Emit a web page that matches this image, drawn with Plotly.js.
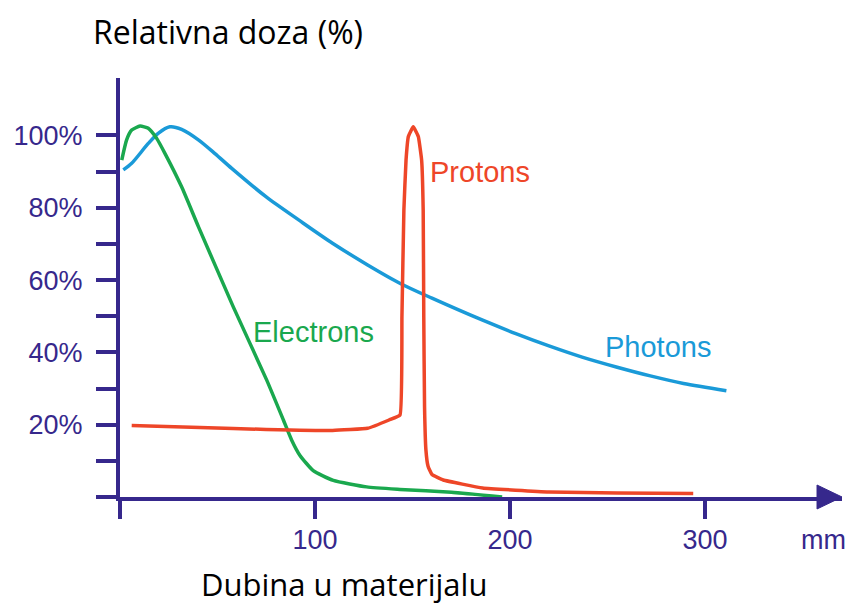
<!DOCTYPE html>
<html>
<head>
<meta charset="utf-8">
<script src="https://cdn.plot.ly/plotly-3.0.1.min.js"></script>
<style>html,body{margin:0;padding:0;background:#fff;}#chart{width:851px;height:605px;}</style>
</head>
<body>
<div id="chart"></div>
<script>
// Depth (mm) and relative dose (%)
const photonX = [1.7, 6, 14.5, 19.6, 25.6, 31.6, 40.2, 48.7, 57.3, 75, 92, 109, 127, 144, 160, 186, 203, 220, 237, 255, 272, 289, 311];
const photonY = [90.5, 92.3, 97.8, 100.6, 102.4, 101.7, 98.8, 95, 90.9, 83, 76.5, 70.2, 64.2, 59, 55, 48.9, 45.2, 41.8, 38.7, 35.9, 33.5, 31.4, 29.4];

const electronX = [0.9, 3.4, 6, 10.3, 14.5, 18.8, 23.1, 31.6, 40.2, 58.1, 75.2, 83.8, 88, 92.3, 99.1, 109.4, 126.5, 143.6, 170, 196];
const electronY = [93.2, 98.8, 101.5, 102.6, 102, 99.2, 95, 85.8, 74.8, 52.6, 32.4, 21.3, 15.8, 11.5, 7.3, 4.6, 2.8, 2.1, 1.3, 0];

const protonX = [6, 41, 75, 109, 127, 138, 143.6, 144.6, 145.6, 146.7, 147.9, 150.4, 153, 154.7, 155.5, 155.8, 156.2, 156.9, 158, 160, 165.8, 186, 220, 255, 294];
const protonY = [19.8, 19.2, 18.7, 18.4, 19, 21.3, 22.7, 50, 79.4, 93.2, 99.7, 102.4, 99.7, 93.2, 79.4, 50, 25, 13, 8.5, 6.2, 4.7, 2.5, 1.4, 1.1, 1];

const yTickVals = [0, 10, 20, 30, 40, 50, 60, 70, 80, 90, 100];
const yTickText = ['', '', '20%', '', '40%', '', '60%', '', '80%', '', '100%'];
const xTickVals = [0, 100, 200, 300];
const xTickText = ['', '100', '200', '300'];

const seriesNames = ['Photons', 'Electrons', 'Protons'];
const labelX = [247.7, 67.2, 158];
const labelY = [41.5, 45.6, 89.9];
const colors = ['#1a9ad8', '#1aa84e', '#ee4628'];

const axisColor = '#36288c';
const tickFont = {family: 'Liberation Sans, Arial, sans-serif', size: 27, color: axisColor};

const traces = [
  {x: photonX, y: photonY, mode: 'lines', line: {color: colors[0], width: 3.5, shape: 'spline', smoothing: 0.8}, name: seriesNames[0]},
  {x: electronX, y: electronY, mode: 'lines', line: {color: colors[1], width: 3.5, shape: 'spline', smoothing: 0.5}, name: seriesNames[1]},
  {x: protonX, y: protonY, mode: 'lines', line: {color: colors[2], width: 3.5, shape: 'spline', smoothing: 0.3}, name: seriesNames[2]}
];

const annotations = seriesNames.map((n, i) => ({
  x: labelX[i], y: labelY[i], xref: 'x', yref: 'y', text: n, showarrow: false,
  xanchor: 'left', yanchor: 'middle',
  font: {family: 'Liberation Sans, Arial, sans-serif', size: 29, color: colors[i]}
}));
annotations.push({
  x: 0.9737, y: -0.1026, xref: 'paper', yref: 'paper', text: 'mm', showarrow: false,
  xanchor: 'center', yanchor: 'middle', font: tickFont
});
annotations.push({
  x: 0.3102, y: -0.207, xref: 'paper', yref: 'paper', text: 'Dubina u materijalu', showarrow: false,
  xanchor: 'center', yanchor: 'middle', font: {family: 'Open Sans, sans-serif', size: 31, color: '#000'}
});

const layout = {
  width: 851, height: 605,
  margin: {l: 120, r: 9, t: 78, b: 108},
  paper_bgcolor: '#fff', plot_bgcolor: '#fff',
  showlegend: false,
  title: {text: 'Relativna doza (%)', xref: 'container', yref: 'container', x: 0.1093, xanchor: 'left', y: 0.9455, yanchor: 'middle',
          font: {family: 'Open Sans, sans-serif', size: 32, color: '#000'}},
  xaxis: {
    range: [0, 370.3], showgrid: false, zeroline: false,
    showline: true, linecolor: axisColor, linewidth: 4,
    ticks: 'outside', ticklen: 18, tickwidth: 4, tickcolor: axisColor,
    tickmode: 'array', tickvals: xTickVals, ticktext: xTickText,
    tickfont: tickFont, ticklabelstandoff: -2
  },
  yaxis: {
    range: [0, 115.9], showgrid: false, zeroline: false,
    showline: true, linecolor: axisColor, linewidth: 4,
    ticks: 'outside', ticklen: 20, tickwidth: 4, tickcolor: axisColor,
    tickmode: 'array', tickvals: yTickVals, ticktext: yTickText,
    tickfont: tickFont, ticklabelstandoff: 8
  },
  shapes: [
    {type: 'path', xref: 'paper', yref: 'paper', path: 'M 0.9654 0.0286 L 1.0 0 L 0.9654 -0.0286 Z',
     fillcolor: axisColor, line: {color: axisColor, width: 1}}
  ],
  annotations: annotations
};

Plotly.newPlot('chart', traces, layout, {staticPlot: true, displayModeBar: false});
</script>
</body>
</html>
